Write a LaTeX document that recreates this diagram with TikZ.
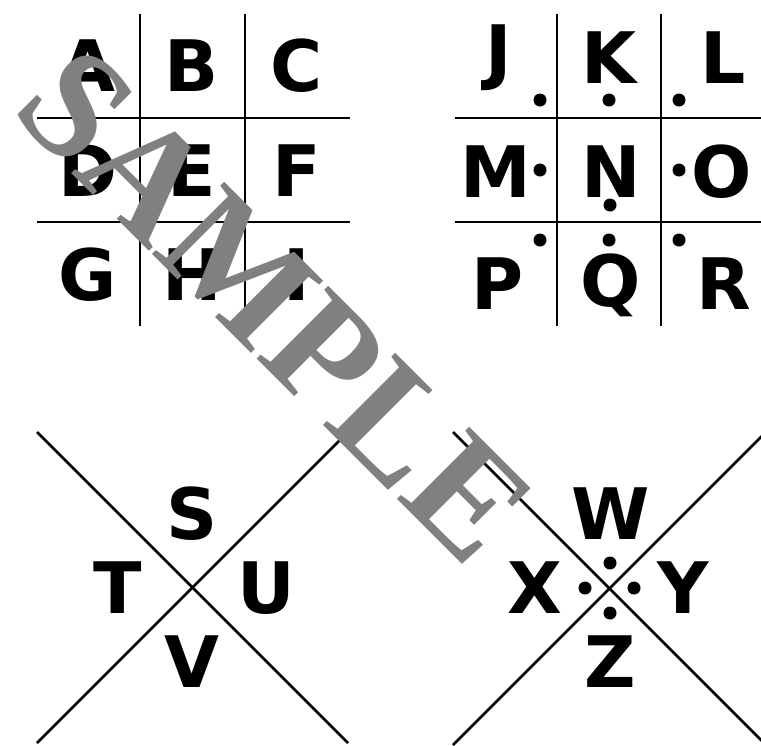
\documentclass[tikz,border=0pt]{standalone}
\usepackage{fontspec}
\newfontfamily\letterfont{DejaVu Sans}
\newfontfamily\wmfont{Liberation Serif}
\definecolor{wmgray}{HTML}{808080}
\begin{document}
\begin{tikzpicture}[x=1pt,y=-1pt,
  ltr/.style={font=\letterfont\bfseries\fontsize{71}{71}\selectfont, inner sep=0pt, anchor=center},
  gridline/.style={line width=2.7pt},
  dotmark/.style={circle, fill=black, inner sep=0pt, minimum size=13pt}]
\useasboundingbox (0,0) rectangle (761,745);
\begin{scope}
\clip (0,0) rectangle (761,745);
% grid 1
\coordinate (g1v1t) at (140,14); \coordinate (g1v1b) at (140,326);
\coordinate (g1v2t) at (245,14); \coordinate (g1v2b) at (245,326);
\coordinate (g1h1l) at (37,118); \coordinate (g1h1r) at (350,118);
\coordinate (g1h2l) at (37,222); \coordinate (g1h2r) at (350,222);
\draw[gridline] (g1v1t) -- (g1v1b);
\draw[gridline] (g1v2t) -- (g1v2b);
\draw[gridline] (g1h1l) -- (g1h1r);
\draw[gridline] (g1h2l) -- (g1h2r);
% grid 2
\coordinate (g2v1t) at (557,14); \coordinate (g2v1b) at (557,326);
\coordinate (g2v2t) at (661,14); \coordinate (g2v2b) at (661,326);
\coordinate (g2h1l) at (455,118); \coordinate (g2h1r) at (765,118);
\coordinate (g2h2l) at (455,222); \coordinate (g2h2r) at (765,222);
\draw[gridline] (g2v1t) -- (g2v1b);
\draw[gridline] (g2v2t) -- (g2v2b);
\draw[gridline] (g2h1l) -- (g2h1r);
\draw[gridline] (g2h2l) -- (g2h2r);
% X 1
\coordinate (x1a) at (37,432); \coordinate (x1b) at (348,743);
\coordinate (x1c) at (37,743); \coordinate (x1d) at (348,432);
\draw[gridline] (x1a) -- (x1b);
\draw[gridline] (x1c) -- (x1d);
% X 2
\coordinate (x2a) at (453,432); \coordinate (x2b) at (767,746);
\coordinate (x2c) at (453,745); \coordinate (x2d) at (767,431);
\draw[gridline] (x2a) -- (x2b);
\draw[gridline] (x2c) -- (x2d);
\end{scope}
% letters grid 1
\node[ltr] (A) at (88,66) {A};
\node[ltr] (B) at (192,66) {B};
\node[ltr] (C) at (297,66) {C};
\node[ltr] (D) at (88,171) {D};
\node[ltr] (E) at (192,171) {E};
\node[ltr] (F) at (297,171) {F};
\node[ltr] (G) at (88,275) {G};
\node[ltr] (H) at (192,275) {H};
\node[ltr] (I) at (297,275) {I};
% letters grid 2
\node[ltr] (J) at (498.5,57.5) {J};
\node[ltr] (K) at (609,57.5) {K};
\node[ltr] (L) at (723.5,57.5) {L};
\node[ltr] (M) at (496,172) {M};
\node[ltr] (N) at (611,172) {N};
\node[ltr] (O) at (722,172) {O};
\node[ltr] (P) at (497.5,284) {P};
\node[ltr] (Q) at (610.5,285) {Q};
\node[ltr] (R) at (723.5,284) {R};
% dots grid 2
\node[dotmark] (dJ) at (540,100) {};
\node[dotmark] (dK) at (609,100) {};
\node[dotmark] (dL) at (679,100) {};
\node[dotmark] (dM) at (540,170) {};
\node[dotmark] (dN) at (610,205) {};
\node[dotmark] (dO) at (679,170) {};
\node[dotmark] (dP) at (540,240) {};
\node[dotmark] (dQ) at (609,240) {};
\node[dotmark] (dR) at (679,240) {};
% X 1 letters
\node[ltr] (S) at (192,514) {S};
\node[ltr] (T) at (118,588) {T};
\node[ltr] (U) at (266,588) {U};
\node[ltr] (V) at (192,662) {V};
% X 2 letters
\node[ltr] (W) at (611,514) {W};
\node[ltr] (X) at (535,588) {X};
\node[ltr] (Y) at (683,588) {Y};
\node[ltr] (Z) at (610,662) {Z};
\node[dotmark] (dW) at (610,563) {};
\node[dotmark] (dX) at (585,588) {};
\node[dotmark] (dY) at (634,588) {};
\node[dotmark] (dZ) at (610,613) {};
% watermark
\node[rotate=-45, text=wmgray, inner sep=0pt, font=\wmfont\bfseries\fontsize{156}{156}\selectfont] (wm) at (275,305) {SAMPLE};
\end{tikzpicture}
\end{document}
